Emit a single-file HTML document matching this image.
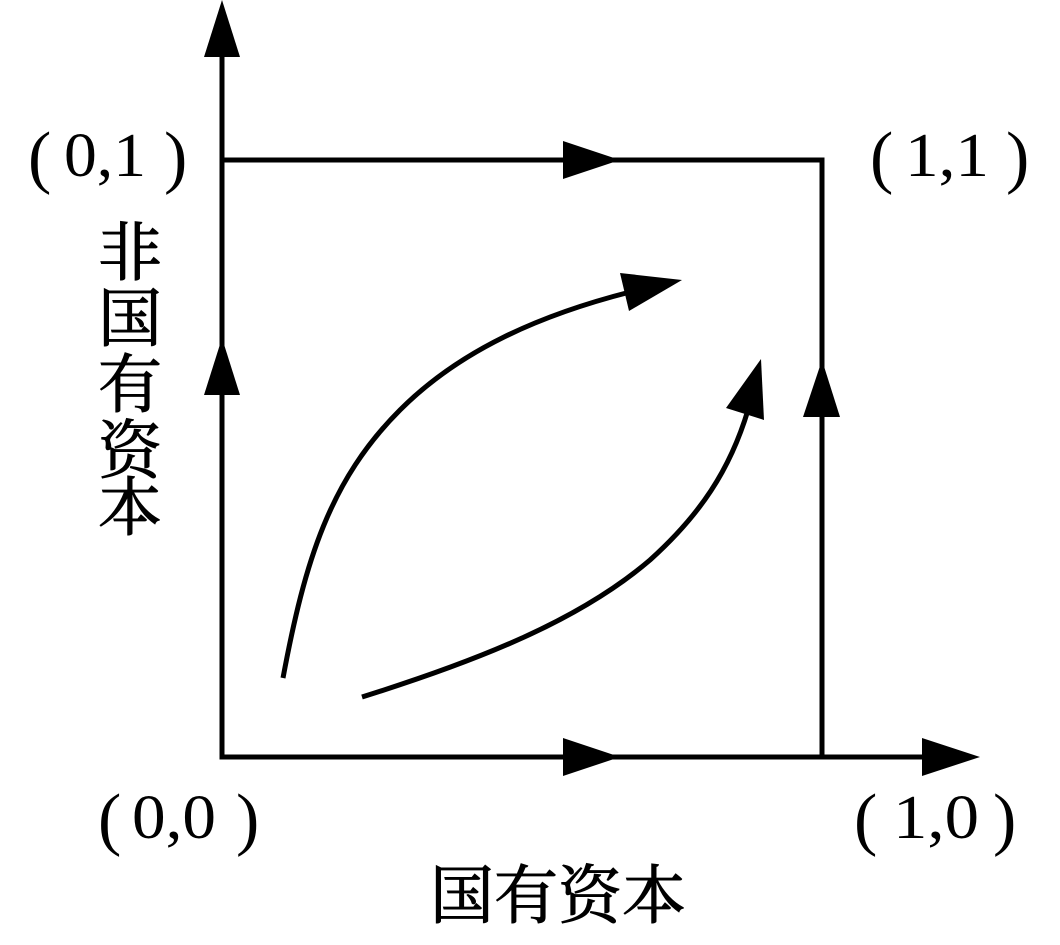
<!DOCTYPE html>
<html><head><meta charset="utf-8"><style>body{margin:0;background:#fff}</style></head><body>
<svg width="1060" height="940" viewBox="0 0 1060 940" xmlns="http://www.w3.org/2000/svg">
<g stroke="#000" stroke-width="5" fill="none">
<path d="M222 50 V757 H930"/>
<path d="M222 160 H822 V757"/>
<path d="M283 678 C305 560 330 480 400 410 C460 350 540 315 630 292"/>
<path d="M362 697 C480 660 580 620 650 560 C700 515 730 470 748 410"/>
</g>
<g fill="#000">
<polygon points="222,0 204,57 240,57"/>
<polygon points="980,757 922,738 922,776"/>
<polygon points="620,160 563,141 563,179"/>
<polygon points="620,757 563,738 563,776"/>
<polygon points="222,338 204,395 240,395"/>
<polygon points="822,360 803,417 840,417"/>
<polygon points="682,280 620,273 629,311"/>
<polygon points="761,359 726,408 764,420"/>
</g>
<g font-family="'Liberation Serif',serif" font-size="70" font-weight="100" fill="#000">
<text x="28" y="180">(</text><text x="164" y="180">)</text>
<text x="870" y="180">(</text><text x="1006" y="180">)</text>
<text x="98" y="842">(</text><text x="236" y="842">)</text>
<text x="854" y="842">(</text><text x="993" y="842">)</text>
</g>
<g font-family="'Liberation Serif',serif" font-size="62" fill="#000">
<text x="64" y="176" textLength="82" lengthAdjust="spacingAndGlyphs">0,1</text>
<text x="905" y="176" textLength="84" lengthAdjust="spacingAndGlyphs">1,1</text>
<text x="132" y="838" textLength="84" lengthAdjust="spacingAndGlyphs">0,0</text>
<text x="893" y="838" textLength="86" lengthAdjust="spacingAndGlyphs">1,0</text>
</g>
<g font-family="'Noto Serif CJK SC','Noto Sans CJK SC',serif" font-size="64" fill="#000" stroke="#000" stroke-width="1">
<text x="98" y="275">非</text>
<text x="98" y="341">国</text>
<text x="98" y="407">有</text>
<text x="98" y="473">资</text>
<text x="98" y="530">本</text>
<text x="430" y="918">国有资本</text>
</g>
</svg>
</body></html>
